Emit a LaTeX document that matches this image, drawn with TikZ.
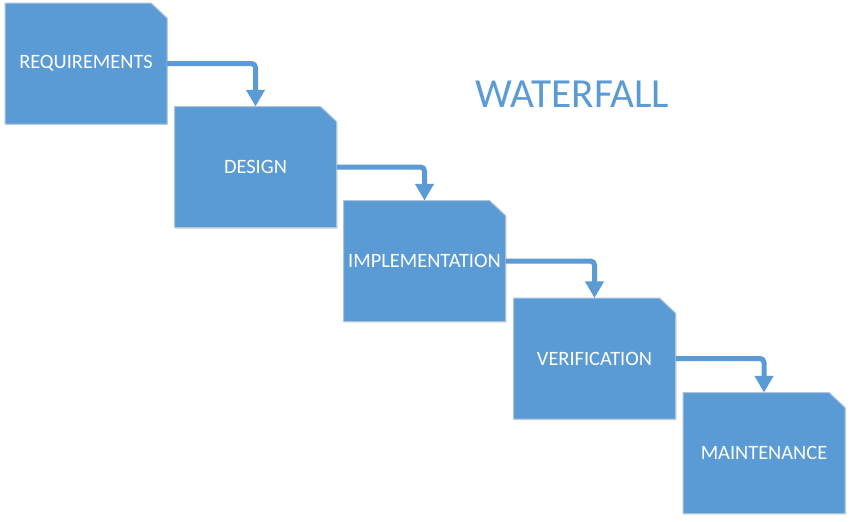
\documentclass[tikz,border=0pt]{standalone}
\usepackage{fontspec}
\setmainfont{Carlito}
\usetikzlibrary{calc,arrows.meta,shadows}
\definecolor{boxblue}{RGB}{91,155,213}
\definecolor{boxedge}{RGB}{175,196,218}
\begin{document}
\begin{tikzpicture}[x=0.75pt,y=-0.75pt,
  stagebox/.style={rectangle, inner sep=0pt, outer sep=0pt,
    minimum width=121.5pt, minimum height=90.75pt,
    text=white, font=\fontsize{15.3}{18}\selectfont},
  stageshape/.style={fill=boxblue, draw=boxedge, line width=0.75pt,
    drop shadow={shadow xshift=0.8pt, shadow yshift=-0.8pt, opacity=0.25, fill=gray}},
  flow/.style={draw=boxblue, line width=3.75pt, rounded corners=3pt,
    -{Triangle[width=13.5pt,length=12.5pt]}}]
\fill[white] (0,0) rectangle (851,522);
\useasboundingbox (0,0) rectangle (851,522);
\path (86,63.5) node[stagebox] (req) {}
      (255.5,167) node[stagebox] (des) {}
      (424.5,261) node[stagebox] (imp) {}
      (594.5,358.5) node[stagebox] (ver) {}
      (764,453) node[stagebox] (mai) {};
\foreach \n in {req,des,imp,ver,mai}{
  \path[stageshape] (\n.south west) -- (\n.north west) -- ($(\n.north east)+(-16,0)$)
    -- ($(\n.north east)+(0,15)$) -- (\n.south east) -- cycle;
}
\node[stagebox] at (req) {\raisebox{-1pt}{REQUIREMENTS}};
\node[stagebox] at (des) {\raisebox{-1pt}{DESIGN}};
\node[stagebox] at (imp) {\raisebox{-1pt}{IMPLEMENTATION}};
\node[stagebox] at (ver) {\raisebox{-1pt}{VERIFICATION}};
\node[stagebox] at (mai) {\raisebox{-1pt}{MAINTENANCE}};
\node[text=boxblue, font=\fontsize{31}{34}\selectfont, inner sep=0pt] (title) at (572.5,94) {WATERFALL};
\draw[flow] (req.east) -| (des.north);
\draw[flow] (des.east) -| (imp.north);
\draw[flow] (imp.east) -| (ver.north);
\draw[flow] (ver.east) -| (mai.north);
\end{tikzpicture}
\end{document}
